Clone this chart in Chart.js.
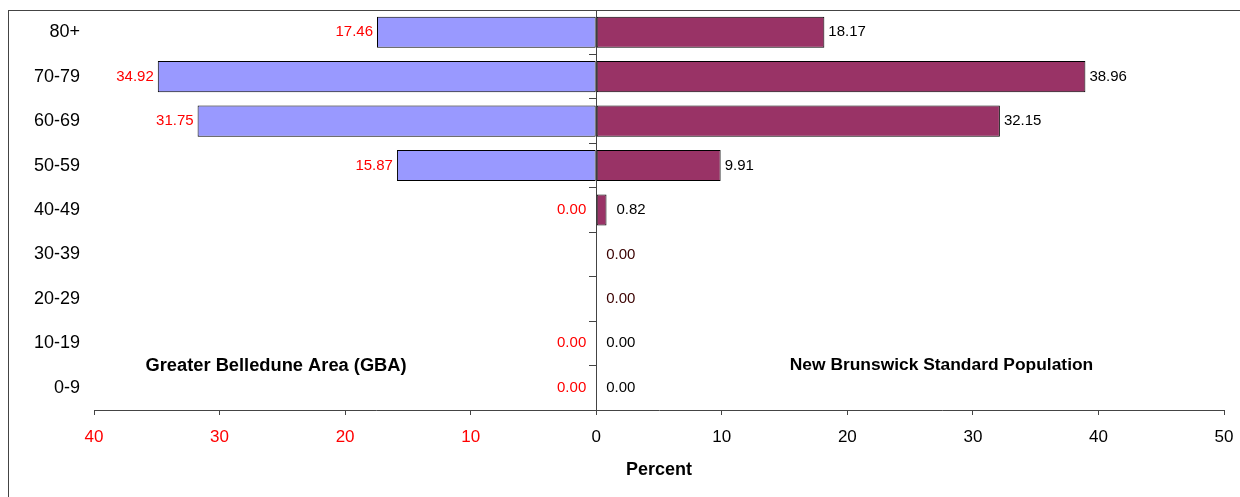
<!DOCTYPE html>
<html>
<head>
<meta charset="utf-8">
<script src="https://cdn.jsdelivr.net/npm/chart.js@4"></script>
<style>
  html, body { margin: 0; padding: 0; background: #fff; overflow: hidden; }
  #frame { position: absolute; left: 8px; top: 10px; width: 1300px; height: 600px; border: 1px solid #444; }
  #wrap { position: absolute; left: 0; top: 0; width: 1240px; height: 497px; }
</style>
</head>
<body>
<div id="frame"></div>
<div id="wrap"><canvas id="pyramid" width="1240" height="497"></canvas></div>
<script>
// ----- DATA -----
const ageGroups = ["80+", "70-79", "60-69", "50-59", "40-49", "30-39", "20-29", "10-19", "0-9"];
const gbaPercent = [17.46, 34.92, 31.75, 15.87, 0.00, 0.00, 0.00, 0.00, 0.00]; // Greater Belledune Area
const nbPercent = [18.17, 38.96, 32.15, 9.91, 0.82, 0.00, 0.00, 0.00, 0.00];   // NB standard population
const xTicks = [-40, -30, -20, -10, 0, 10, 20, 30, 40, 50];
const gbaName = "Greater Belledune Area (GBA)";
const nbName = "New Brunswick Standard Population";

// rows where the two zero labels sit on top of each other (only one dark label visible)
const overlapRows = ["30-39", "20-29"];

const FONT = "'Liberation Sans', Arial, sans-serif";

// draws the value labels and the two side captions
const labelPlugin = {
  id: "pyramidLabels",
  afterDatasetsDraw(chart) {
    const c = chart.ctx;
    const gbaMeta = chart.getDatasetMeta(0);
    const nbMeta = chart.getDatasetMeta(1);
    c.save();
    c.font = "15px " + FONT;
    c.textBaseline = "middle";

    ageGroups.forEach((age, i) => {
      const overlap = overlapRows.includes(age);
      // left (GBA) labels in red
      if (!overlap) {
        const bar = gbaMeta.data[i];
        c.fillStyle = "#ff0000";
        c.textAlign = "right";
        c.fillText(gbaPercent[i].toFixed(2), bar.x - (gbaPercent[i] ? 4 : 10), bar.y);
      }
      // right (NB) labels
      const bar2 = nbMeta.data[i];
      c.fillStyle = overlap ? "#3a0000" : "#000";
      c.textAlign = "left";
      c.fillText(nbPercent[i].toFixed(2), bar2.x + (nbPercent[i] > 1 ? 4 : 10), bar2.y);
    });

    // captions
    const xs = chart.scales.x;
    const ys = chart.scales.y;
    const capY = ys.getPixelForValue(7.5);
    c.fillStyle = "#000";
    c.textAlign = "center";
    c.font = "bold 18.3px " + FONT;
    c.fillText(gbaName, xs.getPixelForValue(-25.5), capY);
    c.font = "bold 17.4px " + FONT;
    c.fillText(nbName, xs.getPixelForValue(27.5), capY);
    c.restore();
  }
};

const ctx = document.getElementById("pyramid").getContext("2d");

const chart = new Chart(ctx, {
  type: "bar",
  data: {
    labels: ageGroups,
    datasets: [
      {
        label: gbaName,
        data: gbaPercent.map(v => -v),
        backgroundColor: "#9999ff",
        borderColor: "#000",
        borderWidth: 1,
        borderSkipped: false,
        barPercentage: 0.7,
        categoryPercentage: 1
      },
      {
        label: nbName,
        data: nbPercent,
        backgroundColor: "#993366",
        borderColor: "#000",
        borderWidth: 1,
        borderSkipped: false,
        barPercentage: 0.7,
        categoryPercentage: 1
      }
    ]
  },
  options: {
    indexAxis: "y",
    responsive: false,
    animation: false,
    devicePixelRatio: 1,
    layout: { padding: { top: 10, right: 16, left: 0, bottom: 0 } },
    plugins: {
      legend: { display: false },
      tooltip: { enabled: false }
    },
    scales: {
      x: {
        type: "linear",
        stacked: true,
        min: -40,
        max: 50,
        afterBuildTicks: scale => { scale.ticks = xTicks.map(v => ({ value: v })); },
        afterFit: scale => {
          scale.height = 87;
          scale.paddingLeft = 0;
          scale.paddingRight = 0;
        },
        grid: { drawOnChartArea: false, drawTicks: true, tickLength: 5, color: "#444" },
        border: { display: true, color: "#444", width: 1 },
        ticks: {
          padding: 12,
          font: { family: FONT, size: 17 },
          color: c => (c.tick && c.tick.value < 0 ? "#ff0000" : "#000"),
          callback: v => Math.abs(v)
        },
        title: {
          display: true,
          text: "Percent",
          color: "#000",
          font: { family: FONT, size: 18, weight: "bold" },
          padding: { top: 0, bottom: 16 }
        }
      },
      y: {
        type: "category",
        stacked: true,
        position: "left",
        offset: true,
        afterFit: scale => {
          scale.width = 94;
          scale.paddingTop = 0;
          scale.paddingBottom = 0;
        },
        grid: { display: false, drawTicks: false },
        border: { display: false },
        ticks: {
          padding: 14,
          font: { family: FONT, size: 18 },
          color: "#000"
        }
      },
      y2: {
        type: "category",
        position: { x: 0 },
        offset: true,
        grid: { offset: true, drawOnChartArea: false, drawTicks: true, tickLength: 7, color: "#444" },
        border: { display: true, color: "#444", width: 1 },
        ticks: { display: false }
      }
    }
  },
  plugins: [labelPlugin]
});
</script>
</body>
</html>
